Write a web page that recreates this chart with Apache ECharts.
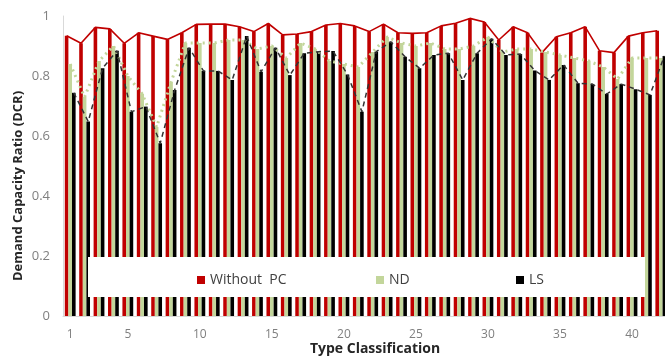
<!DOCTYPE html>
<html>
<head>
<meta charset="utf-8">
<title>Demand Capacity Ratio</title>
<script src="https://cdn.jsdelivr.net/npm/echarts@6/dist/echarts.min.js"></script>
<style>
  html, body { margin: 0; padding: 0; background: #fff; }
  #chart { width: 665px; height: 356px; }
</style>
</head>
<body>
<div id="chart"></div>
<script>
// type classifications 1..42
const categories = [1, 2, 3, 4, 5, 6, 7, 8, 9, 10, 11, 12, 13, 14, 15, 16, 17, 18, 19, 20, 21,
  22, 23, 24, 25, 26, 27, 28, 29, 30, 31, 32, 33, 34, 35, 36, 37, 38, 39, 40, 41, 42];
const shownLabels = [1, 5, 10, 15, 20, 25, 30, 35, 40];

const withoutPC = [0.934, 0.909, 0.962, 0.957, 0.909, 0.944, 0.933, 0.922, 0.944, 0.972,
  0.973, 0.973, 0.964, 0.948, 0.975, 0.937, 0.940, 0.948, 0.970, 0.975,
  0.967, 0.948, 0.973, 0.944, 0.942, 0.944, 0.967, 0.976, 0.992, 0.980,
  0.920, 0.964, 0.944, 0.878, 0.931, 0.944, 0.964, 0.884, 0.878, 0.933,
  0.944, 0.951];
const nd = [0.84, 0.73, 0.85, 0.90, 0.80, 0.74, 0.63, 0.78, 0.91, 0.91,
  0.91, 0.92, 0.92, 0.89, 0.90, 0.86, 0.91, 0.89, 0.85, 0.84,
  0.83, 0.88, 0.93, 0.91, 0.90, 0.91, 0.89, 0.89, 0.90, 0.93,
  0.88, 0.89, 0.89, 0.88, 0.87, 0.86, 0.85, 0.83, 0.79, 0.86,
  0.86, 0.86];
const ls = [0.744, 0.648, 0.826, 0.884, 0.681, 0.698, 0.576, 0.753, 0.894, 0.817,
  0.817, 0.787, 0.933, 0.814, 0.894, 0.803, 0.876, 0.881, 0.883, 0.805,
  0.681, 0.881, 0.914, 0.864, 0.826, 0.870, 0.876, 0.787, 0.876, 0.924,
  0.870, 0.873, 0.818, 0.787, 0.837, 0.776, 0.773, 0.740, 0.773, 0.756,
  0.737, 0.867];

const RED = '#c00000';
const GREEN = '#c3d69b';
const BLACK = '#000000';
const FONT = 'Open Sans';

const chart = echarts.init(document.getElementById('chart'));

// the trend lines sit on the tops of the side bars, so they get grids shifted by one bar width
const barW = 3.6;
function hiddenX(grid) {
  return { type: 'category', gridIndex: grid, data: categories, show: false };
}
function hiddenY(grid) {
  return { type: 'value', gridIndex: grid, min: 0, max: 1, show: false };
}
function makeGrid(shift) {
  return { left: 63 + shift, right: -3 - shift, top: 16, bottom: 40, outerBoundsMode: 'none', containLabel: false };
}

chart.setOption({
  animation: false,
  textStyle: { fontFamily: FONT },
  grid: [makeGrid(0), makeGrid(-barW), makeGrid(barW)],
  xAxis: [
    {
      type: 'category',
      data: categories,
      axisLine: { lineStyle: { color: '#d9d9d9', width: 1 } },
      axisTick: { show: false },
      axisLabel: {
        color: '#7f7f7f',
        fontSize: 12,
        margin: 13,
        interval: (idx, val) => shownLabels.indexOf(Number(val)) >= 0
      }
    },
    hiddenX(1),
    hiddenX(2)
  ],
  yAxis: [
    {
      type: 'value',
      min: 0,
      max: 1,
      interval: 0.2,
      axisLine: { show: true, lineStyle: { color: '#d9d9d9' } },
      axisTick: { show: false },
      splitLine: { show: false },
      axisLabel: { color: '#7f7f7f', fontSize: 13, margin: 13 }
    },
    hiddenY(1),
    hiddenY(2)
  ],
  graphic: [
    {
      type: 'rect',
      z: 50,
      shape: { x: 88, y: 257, width: 557, height: 40 },
      style: { fill: '#ffffff' }
    },
    {
      type: 'text',
      z: 50,
      x: 18,
      y: 186,
      rotation: Math.PI / 2,
      style: {
        text: 'Demand Capacity Ratio (DCR)',
        fill: '#262626',
        font: 'bold 13px "Open Sans"',
        align: 'center',
        verticalAlign: 'middle'
      }
    },
    {
      type: 'text',
      z: 50,
      x: 375,
      y: 349,
      style: {
        text: 'Type Classification',
        fill: '#262626',
        font: 'bold 14px "Open Sans"',
        align: 'center',
        verticalAlign: 'middle'
      }
    }
  ],
  legend: [
    { data: ['Without  PC'], left: 192, top: 268 },
    { data: ['ND'], left: 371, top: 268 },
    { data: ['LS'], left: 511, top: 268 }
  ].map(l => Object.assign(l, {
    z: 60,
    icon: 'rect',
    itemWidth: 8,
    itemHeight: 8,
    itemGap: 0,
    selectedMode: false,
    textStyle: { color: '#404040', fontSize: 14, fontFamily: FONT }
  })),
  series: [
    {
      name: 'Without  PC', type: 'bar', data: withoutPC,
      itemStyle: { color: RED }, barGap: '0%', barCategoryGap: '25%'
    },
    {
      name: 'ND', type: 'bar', data: nd,
      itemStyle: { color: GREEN }, barGap: '0%', barCategoryGap: '25%'
    },
    {
      name: 'LS', type: 'bar', data: ls,
      itemStyle: { color: BLACK }, barGap: '0%', barCategoryGap: '25%'
    },
    {
      name: 'Without PC line', type: 'line', data: withoutPC,
      xAxisIndex: 1, yAxisIndex: 1, symbol: 'none', z: 5,
      lineStyle: { color: RED, width: 1.6 }
    },
    {
      name: 'ND line', type: 'line', data: nd,
      symbol: 'none', z: 5,
      lineStyle: { color: GREEN, width: 3, type: [2, 4] }
    },
    {
      name: 'LS line', type: 'line', data: ls,
      xAxisIndex: 2, yAxisIndex: 2, symbol: 'none', z: 5,
      lineStyle: { color: '#333333', width: 1.5, type: [5, 4] }
    }
  ]
});
</script>
</body>
</html>
